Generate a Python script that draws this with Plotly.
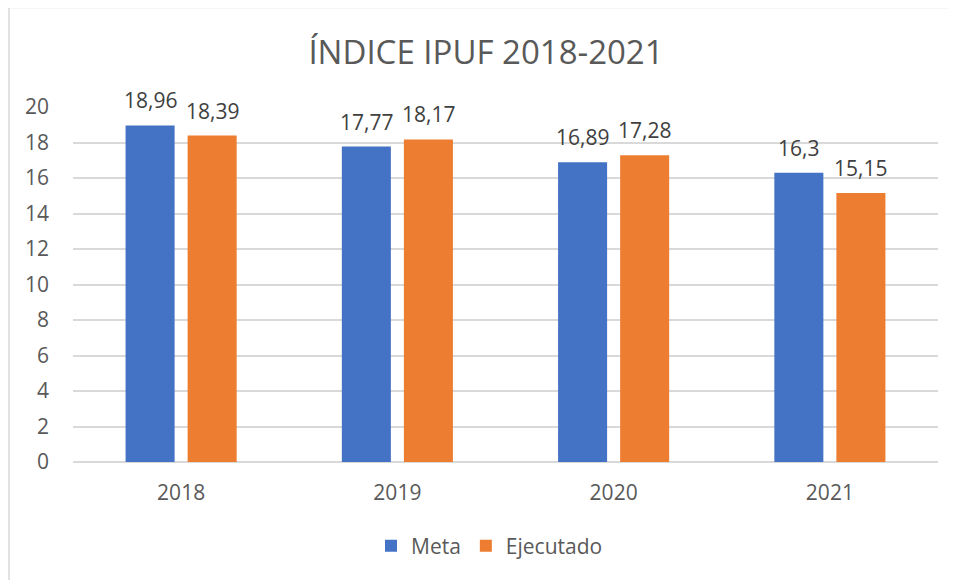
import plotly.graph_objects as go

categories = ["2018", "2019", "2020", "2021"]
meta = [18.96, 17.77, 16.89, 16.3]
ejecutado = [18.39, 18.17, 17.28, 15.15]
meta_labels = ["18,96", "17,77", "16,89", "16,3"]
ejec_labels = ["18,39", "18,17", "17,28", "15,15"]

W, H = 956, 580
OFF = 8  # page body offset
L, T = 73 - OFF, 107 - OFF
R = W - (938 - OFF)
B = H - (462 - OFF)
pw, ph = W - L - R, H - T - B
zero_y = 462 - OFF

font_family = "Open Sans, Lato, sans-serif"

fig = go.Figure()
fig.add_trace(go.Bar(x=categories, y=meta, name="Meta", marker=dict(color="#4472C4", line=dict(width=0))))
fig.add_trace(go.Bar(x=categories, y=ejecutado, name="Ejecutado", marker=dict(color="#ED7D31", line=dict(width=0))))

annotations = []
for i, (v, t) in enumerate(zip(meta, meta_labels)):
    annotations.append(dict(x=i, y=v, text=t, showarrow=False, xshift=-31, yshift=9,
                            yanchor="bottom", font=dict(size=21, color="#404040", family=font_family)))
for i, (v, t) in enumerate(zip(ejecutado, ejec_labels)):
    annotations.append(dict(x=i, y=v, text=t, showarrow=False, xshift=31, yshift=9,
                            yanchor="bottom", font=dict(size=21, color="#404040", family=font_family)))

fig.update_layout(
    width=W, height=H,
    margin=dict(l=L, r=R, t=T, b=B, pad=0),
    paper_bgcolor="white", plot_bgcolor="white",
    barmode="group", bargap=0.426, bargroupgap=0.21,
    title=dict(text="ÍNDICE IPUF 2018-2021", x=0.5, xanchor="center", y=1 - (52 - OFF) / H, yanchor="middle",
               font=dict(size=33, color="#595959", family=font_family)),
    font=dict(family=font_family, color="#595959", size=20),
    showlegend=True,
    legend=dict(orientation="h", x=0.5 - 16 / pw, xanchor="center", y=(zero_y - (546 - OFF)) / ph,
                yanchor="middle", itemwidth=30, tracegroupgap=0,
                font=dict(size=21, color="#595959"), itemsizing="constant", traceorder="normal"),
    xaxis=dict(type="category", range=[-0.5, len(categories) - 0.5], showgrid=False, showline=False,
               ticks="", ticklabelstandoff=16, tickfont=dict(size=21, color="#595959")),
    yaxis=dict(range=[0, 20], dtick=2, showgrid=True, gridcolor="#D9D9D9", gridwidth=1.5,
               zeroline=True, zerolinecolor="#D9D9D9", zerolinewidth=1.5, showline=False, ticks="",
               ticklabelstandoff=23, tickfont=dict(size=21, color="#595959")),
    annotations=annotations,
    shapes=[dict(type="rect", xref="paper", yref="paper",
                 x0=(9 - OFF - L) / pw, x1=(W + 10 - L) / pw,
                 y0=(zero_y - (H + 10)) / ph, y1=(zero_y - (8 - OFF) + 0.5) / ph,
                 line=dict(color="#D9D9D9", width=1.5), layer="below")],
)

fig.write_html("out.html")
